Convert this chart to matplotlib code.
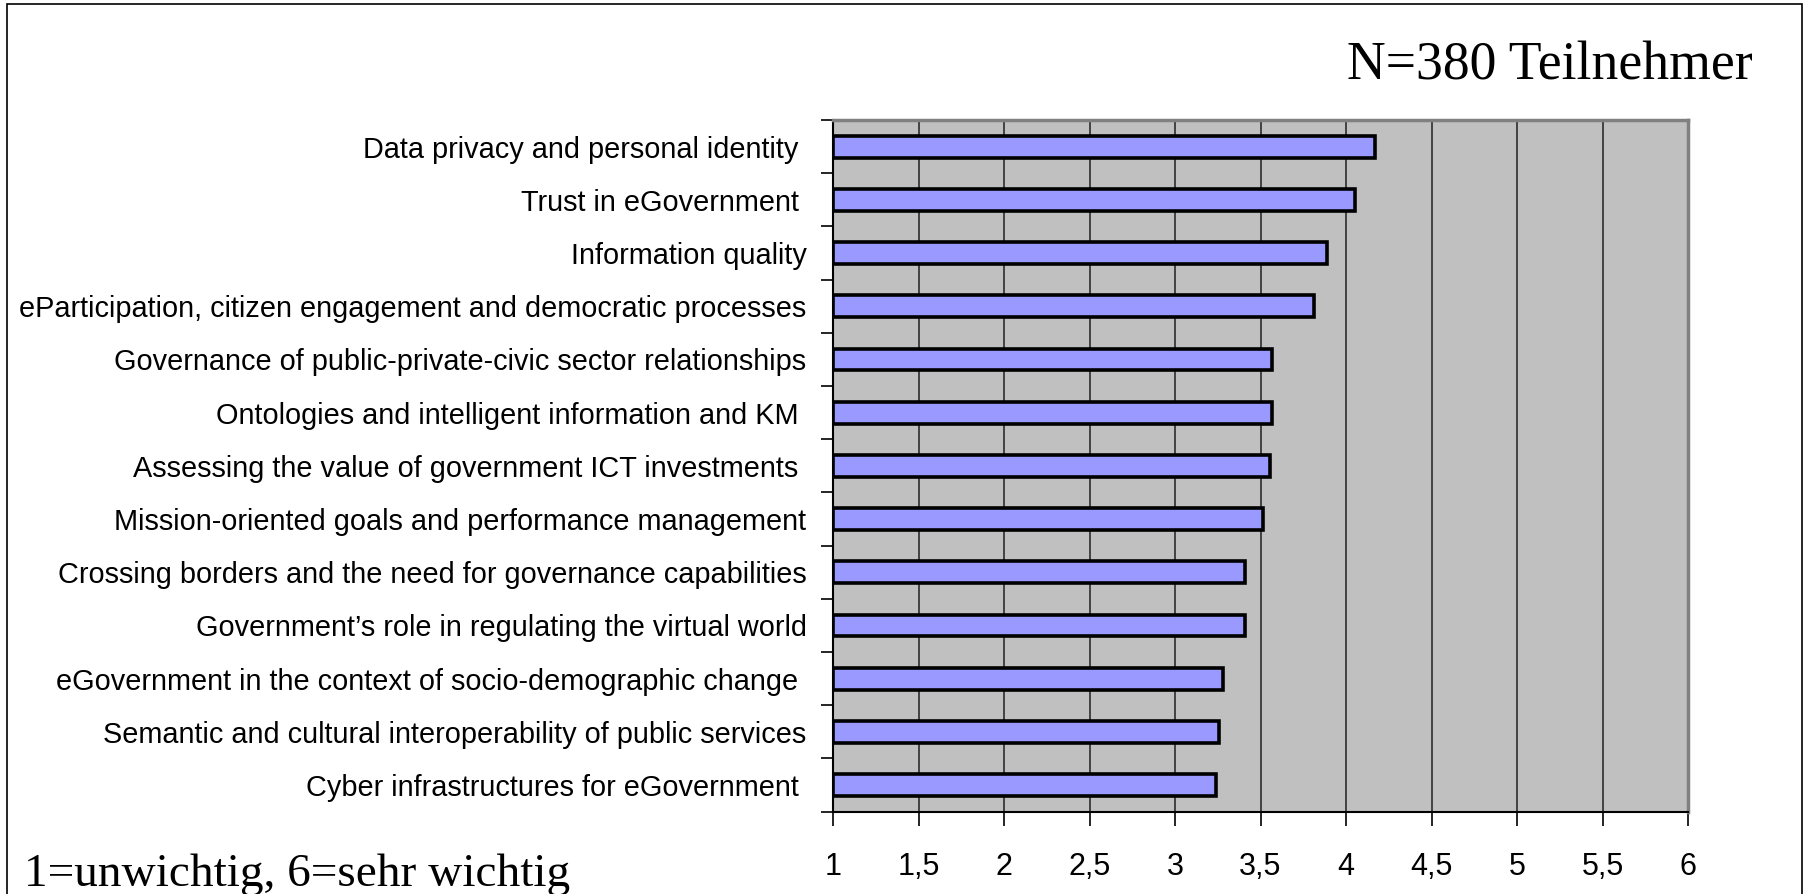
import numpy as np
import matplotlib.pyplot as plt
from matplotlib.patches import Rectangle
from matplotlib.ticker import FixedLocator, FuncFormatter

# Topics and mean rating (1=unwichtig, 6=sehr wichtig), top to bottom
topics = [
    "Data privacy and personal identity ",
    "Trust in eGovernment ",
    "Information quality",
    "eParticipation, citizen engagement and democratic processes",
    "Governance of public-private-civic sector relationships",
    "Ontologies and intelligent information and KM ",
    "Assessing the value of government ICT investments ",
    "Mission-oriented goals and performance management",
    "Crossing borders and the need for governance capabilities",
    "Government\u2019s role in regulating the virtual world",
    "eGovernment in the context of socio-demographic change ",
    "Semantic and cultural interoperability of public services",
    "Cyber infrastructures for eGovernment ",
]
ratings = [4.17, 4.05, 3.89, 3.81, 3.57, 3.57, 3.555, 3.515, 3.41, 3.41, 3.28, 3.26, 3.24]

x_ticks = [1, 1.5, 2, 2.5, 3, 3.5, 4, 4.5, 5, 5.5, 6]

fig = plt.figure(figsize=(18.05, 8.94), dpi=100)
ax = fig.add_axes([833/1805, 1-811.7/894, (1688-833)/1805, (811.7-120)/894])

ypos = np.arange(len(topics))
vals = np.array(ratings)
ax.barh(ypos, vals - 1, left=1, height=0.41, color='#9999ff',
        edgecolor='black', linewidth=2.6, zorder=3)

ax.set_facecolor('#c0c0c0')
ax.set_xlim(1, 6)
ax.set_ylim(len(topics) - 0.5, -0.5)

ax.set_xticks(x_ticks)
ax.xaxis.set_major_formatter(FuncFormatter(lambda v, p: ('%g' % v).replace('.', ',')))
ax.tick_params(axis='x', direction='out', length=10, width=1.2, pad=19,
               labelsize=22, colors='black')
ax.grid(axis='x', color='#202020', linewidth=1.1, zorder=1)

ax.set_yticks(ypos)
ax.set_yticklabels(topics)
ax.yaxis.set_minor_locator(FixedLocator(np.arange(-0.5, len(topics), 1.0)))
ax.tick_params(axis='y', which='major', length=0, pad=19, labelsize=20.8)
ax.tick_params(axis='y', which='minor', direction='out', length=9, width=1.2)

for lab in ax.get_xticklabels() + ax.get_yticklabels():
    lab.set_family(['Liberation Sans', 'DejaVu Sans'])

ax.spines['left'].set_color('black')
ax.spines['left'].set_linewidth(1.5)
ax.spines['bottom'].set_color('black')
ax.spines['bottom'].set_linewidth(1.5)
ax.spines['top'].set_color('#808080')
ax.spines['top'].set_linewidth(2.5)
ax.spines['right'].set_color('#808080')
ax.spines['right'].set_linewidth(2.5)

fig.text(1753/1805, 1-80/894, 'N=380 Teilnehmer', ha='right', va='baseline',
         fontsize=38.6, family='Liberation Serif')
fig.text(24/1805, 1-886/894, '1=unwichtig, 6=sehr wichtig', ha='left', va='baseline',
         fontsize=34, family='Liberation Serif')

# thin frame around the whole chart
fig.add_artist(Rectangle((7/1805, -0.01), (1801.5-7)/1805, 1.01-4/894,
                         transform=fig.transFigure, fill=False,
                         edgecolor='black', linewidth=1.2))

fig.savefig('out.png', dpi=100)
